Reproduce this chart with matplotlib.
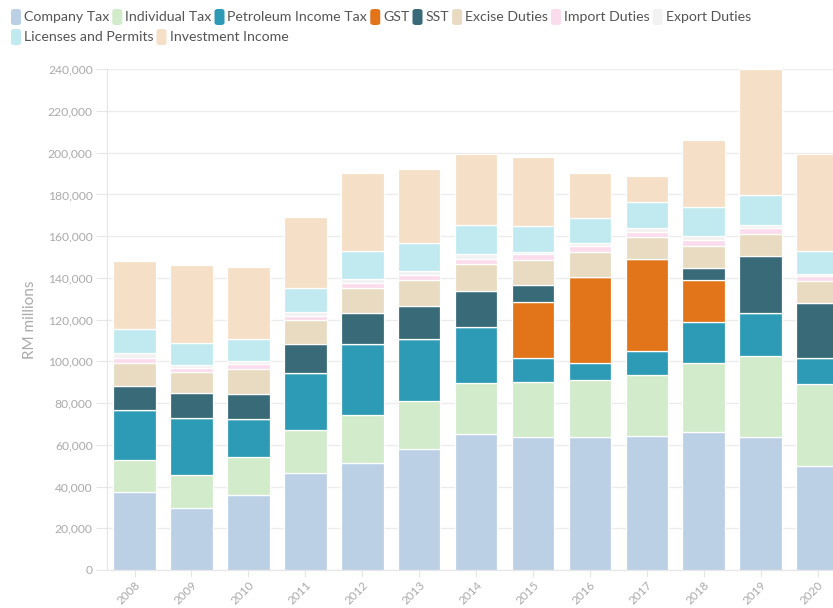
import numpy as np
import matplotlib
matplotlib.use("Agg")
import matplotlib.pyplot as plt
from matplotlib.patches import FancyBboxPatch
from matplotlib.ticker import FuncFormatter, MultipleLocator

plt.rcParams['font.family'] = ['Lato', 'DejaVu Sans']

years = ['2008', '2009', '2010', '2011', '2012', '2013', '2014',
         '2015', '2016', '2017', '2018', '2019', '2020']

# RM millions
company_tax = [37300, 29900, 36000, 46600, 51100, 57800, 65000, 63600, 63600, 64200, 66300, 63600, 49900]
individual_tax = [15400, 15700, 18000, 20500, 23200, 23300, 24800, 26400, 27500, 29100, 32800, 39000, 39100]
petroleum_tax = [24000, 27200, 18400, 27500, 33900, 29700, 26800, 11500, 8300, 11700, 20000, 20500, 12800]
gst = [0, 0, 0, 0, 0, 0, 0, 26800, 41200, 44100, 20000, 0, 0]
sst = [11500, 12000, 12000, 13600, 14900, 15800, 17100, 8300, 0, 0, 5600, 27500, 26400]
excise = [10900, 10100, 12000, 11700, 12300, 12300, 12900, 12000, 12000, 10400, 10800, 10500, 10400]
import_duties = [2400, 1900, 2400, 1900, 2100, 2700, 2700, 2700, 2700, 2700, 2700, 2700, 2100]
export_duties = [2700, 1600, 1400, 2100, 1900, 1800, 2100, 1300, 1300, 1600, 1900, 1600, 1100]
licenses = [11500, 10400, 10400, 11200, 13700, 13400, 14000, 12400, 12300, 12500, 14100, 14400, 10900]
investment = [32300, 37500, 34700, 34000, 37100, 35500, 33800, 32800, 21200, 12700, 31900, 60200, 46700]

series = [
    ('Company Tax', company_tax, '#bbd0e4'),
    ('Individual Tax', individual_tax, '#d2ebcb'),
    ('Petroleum Income Tax', petroleum_tax, '#2e9bb6'),
    ('GST', gst, '#e27519'),
    ('SST', sst, '#386a78'),
    ('Excise Duties', excise, '#e8dbc2'),
    ('Import Duties', import_duties, '#fbdcec'),
    ('Export Duties', export_duties, '#f2f2f2'),
    ('Licenses and Permits', licenses, '#c0eaef'),
    ('Investment Income', investment, '#f5dfc7'),
]

fig = plt.figure(figsize=(8.33, 6.08), dpi=100)
ax = fig.add_axes([0.128, 0.0625, 0.872, 0.8235])

x = np.arange(len(years))
bottom = np.zeros(len(years))
for name, vals, col in series:
    vals = np.array(vals, dtype=float)
    ax.bar(x, vals, 0.75, bottom=bottom, color=col, edgecolor='white',
           linewidth=0.9, zorder=3)
    bottom += vals

ax.set_xlim(-0.49, 12.27)
ax.set_ylim(0, 240000)
ax.yaxis.set_major_locator(MultipleLocator(20000))
ax.yaxis.set_major_formatter(FuncFormatter(lambda v, p: f'{int(v):,}'))
ax.set_xticks(x)
ax.set_xticklabels(years, rotation=45, ha='right', va='top', rotation_mode='anchor')
ax.tick_params(axis='x', colors='#e6e6e6', labelcolor='#aaaaaa', labelsize=8.5, length=5, pad=2)
ax.tick_params(axis='y', colors='#e6e6e6', labelcolor='#aaaaaa', labelsize=8.7, length=8, pad=2)
ax.grid(axis='y', color='#ececec', linewidth=1, zorder=0)
for s in ['top', 'right']:
    ax.spines[s].set_visible(False)
ax.spines['left'].set_color('#e6e6e6')
ax.spines['bottom'].set_color('#e6e6e6')
ax.set_ylabel('RM millions', color='#aaaaaa', fontsize=11, labelpad=8)

# legend drawn by hand so the rows break like the original
fig.canvas.draw()
renderer = fig.canvas.get_renderer()
rows = [series[:8], series[8:]]
row_y = [17, 37]
W, H = 833, 608
for r, items in enumerate(rows):
    px = 11
    for name, vals, col in items:
        sw = FancyBboxPatch((px / W, (H - row_y[r] - 8) / H), 10 / W, 16 / H,
                            boxstyle='round,pad=0,rounding_size=0.004',
                            transform=fig.transFigure, facecolor=col,
                            edgecolor='none')
        fig.patches.append(sw)
        t = fig.text((px + 13) / W, (H - row_y[r]) / H, name, fontsize=10.2,
                     color='#555555', va='center', ha='left')
        bb = t.get_window_extent(renderer)
        px = px + 13 + bb.width + 3

fig.savefig('out.png', dpi=100)
